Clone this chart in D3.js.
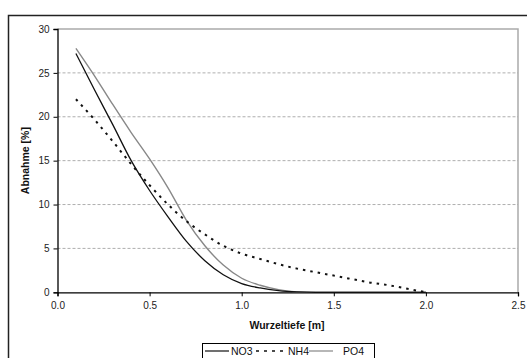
<!DOCTYPE html>
<html><head><meta charset="utf-8">
<script src="https://cdn.jsdelivr.net/npm/d3@7"></script>
<style>body{margin:0;background:#fff;overflow:hidden}svg{display:block;font-family:"Liberation Sans",Arial,sans-serif}</style>
</head><body>
<svg id="c" width="527" height="358"></svg>
<script>
const depth = [0.1,0.2,0.3,0.4,0.5,0.6,0.7,0.8,0.9,1.0,1.1,1.2,1.3,1.4,1.5,1.6,1.7,1.8,1.9,2.0];
const no3 = [27.2,23.1,19.1,15.0,11.6,8.6,5.8,3.6,2.0,1.0,0.5,0.2,0.05,0,0,0,0,0,0,0];
const nh4 = [22.0,19.7,17.2,14.6,12.2,10.0,8.1,6.6,5.3,4.4,3.8,3.2,2.7,2.3,1.9,1.5,1.1,0.8,0.4,0];
const po4 = [27.8,24.7,21.4,18.2,15.2,11.9,8.2,5.3,3.1,1.6,0.8,0.3,0.05,0,0,0,0,0,0,0];
const xTicks = [0,0.5,1.0,1.5,2.0,2.5];
const yTicks = [0,5,10,15,20,25,30];
const seriesNames = ["NO3","NH4","PO4"];

const svg = d3.select("#c");
const L=57.5, R=518, T=29, B=292.3;
const x = d3.scaleLinear().domain([0,2.5]).range([L,R]);
const y = d3.scaleLinear().domain([0,30]).range([B,T]);

// outer frame (top and left visible)
svg.append("path").attr("d","M8.5,360 V15.5 H530")
  .attr("fill","none").attr("stroke","#222").attr("stroke-width",1.5);

// plot area border
svg.append("path").attr("d",`M${L},${T} H${R} V${B}`)
  .attr("fill","none").attr("stroke","#aaa").attr("stroke-width",1.5);

// gridlines
svg.append("g").selectAll("line").data(yTicks.filter(d=>d>0&&d<30)).join("line")
  .attr("x1",L).attr("x2",R).attr("y1",d=>y(d)).attr("y2",d=>y(d))
  .attr("stroke","#999").attr("stroke-width",0.8).attr("stroke-dasharray","3,2");

// axes
const yAxis = d3.axisLeft(y).tickValues(yTicks).tickFormat(d3.format("d")).tickSize(4).tickPadding(4);
const gy = svg.append("g").attr("transform",`translate(${L},0)`).call(yAxis);
const xAxis = d3.axisBottom(x).tickValues(xTicks).tickFormat(d3.format(".1f")).tickSize(4).tickPadding(6);
const gx = svg.append("g").attr("transform",`translate(0,${B})`).call(xAxis);
[gx,gy].forEach(g=>{
  g.select(".domain").attr("stroke","#000").attr("stroke-width",1.3);
  g.selectAll(".tick line").attr("stroke","#000").attr("stroke-width",1);
  g.selectAll("text").attr("font-size","10px").attr("fill","#222").attr("font-family","Liberation Sans, Arial, sans-serif");
});

// series
const mk = vals => depth.map((d,i)=>[d,vals[i]]);
const line = d3.line().x(d=>x(d[0])).y(d=>y(d[1])).curve(d3.curveMonotoneX);
const styles = [
  {data:no3, color:"#111", dash:null, w:1.3},
  {data:nh4, color:"#111", dash:"2.5,5", w:2},
  {data:po4, color:"#888", dash:null, w:1.4}
];
svg.append("g").selectAll("path").data([styles[2],styles[0],styles[1]]).join("path")
  .attr("d",s=>line(mk(s.data))).attr("fill","none")
  .attr("stroke",s=>s.color).attr("stroke-width",s=>s.w)
  .attr("stroke-dasharray",s=>s.dash);

// axis titles
svg.append("text").attr("x",287).attr("y",329).attr("text-anchor","middle")
  .attr("font-size","10.5px").attr("font-weight","bold").attr("fill","#111").text("Wurzeltiefe [m]");
svg.append("text").attr("transform",`translate(29,${(T+B)/2}) rotate(-90)`).attr("text-anchor","middle")
  .attr("font-size","10.5px").attr("font-weight","bold").attr("fill","#111").text("Abnahme [%]");

// legend
const lg = svg.append("g");
lg.append("rect").attr("x",202.5).attr("y",343.5).attr("width",172).attr("height",20)
  .attr("fill","#fff").attr("stroke","#000").attr("stroke-width",1);
const legItems = [
  {name:seriesNames[0], s:styles[0], lx:205, lw:24, tx:231},
  {name:seriesNames[1], s:styles[1], lx:256, lw:30, tx:288},
  {name:seriesNames[2], s:styles[2], lx:309, lw:24, tx:343}
];
legItems.forEach(it=>{
  lg.append("line").attr("x1",it.lx).attr("x2",it.lx+it.lw).attr("y1",351).attr("y2",351)
    .attr("stroke",it.s.color).attr("stroke-width",it.s.dash?1.5:1.2).attr("stroke-dasharray",it.s.dash?"3,5":null);
  lg.append("text").attr("x",it.tx).attr("y",355).attr("font-size","10.5px").attr("fill","#111").text(it.name);
});
</script>
</body></html>
